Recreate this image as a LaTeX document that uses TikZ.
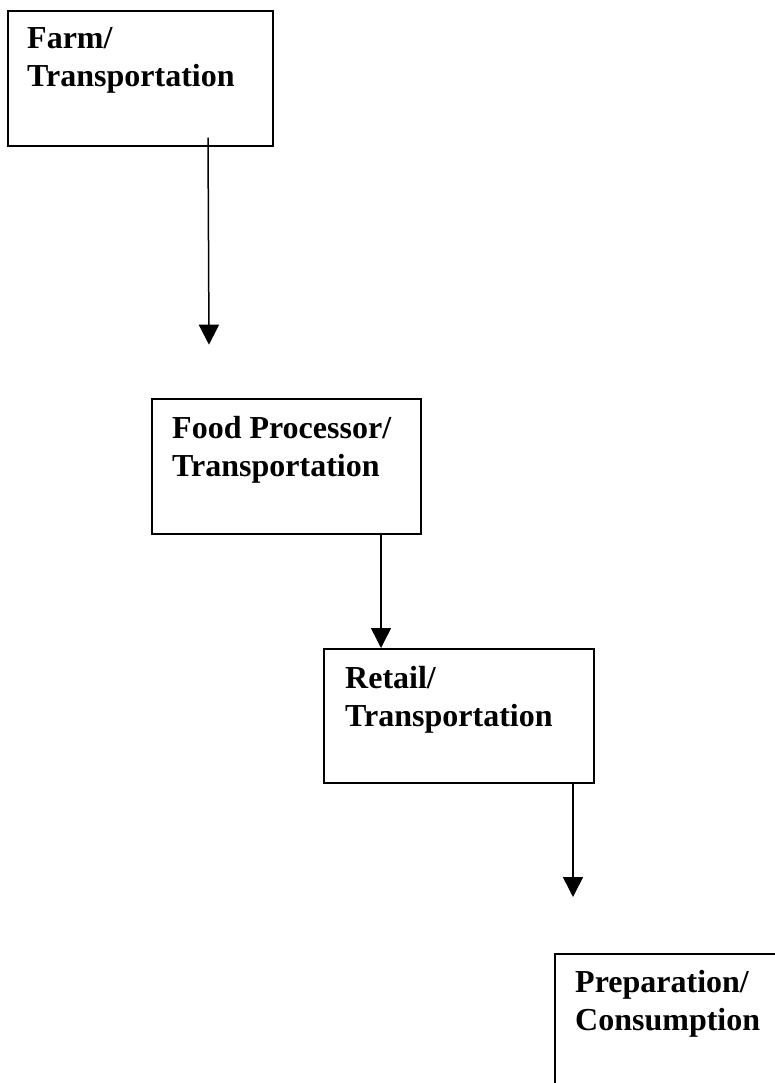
\documentclass[tikz,border=0pt]{standalone}
\usepackage{fontspec}
\setmainfont{Liberation Serif}
\usetikzlibrary{arrows.meta,calc}
\begin{document}
\begin{tikzpicture}[x=1pt,y=-1pt,
  stagebox/.style={draw=black,line width=1.7pt,rectangle,inner sep=0pt,anchor=north west},
  stagetext/.style={anchor=north west,inner sep=0pt,align=left,
    font=\fontsize{32}{38}\selectfont\bfseries},
  flow/.style={draw=black,line width=1.5pt,-{Triangle[width=20pt,length=20pt]}}]
\useasboundingbox (0,0) rectangle (775,1083);
\fill[white] (0,0) rectangle (775,1083);
\clip (0,0) rectangle (775,1083);

\node[stagebox,minimum width=265pt,minimum height=135pt] (farm) at (7,10) {};
\node[stagetext] (farmt) at ($(farm.north west)+(20,17)$) {Farm/\\Transportation};

\node[stagebox,minimum width=269pt,minimum height=135pt] (proc) at (151,398) {};
\node[stagetext] (proct) at ($(proc.north west)+(21,18)$) {Food Processor/\\Transportation};

\node[stagebox,minimum width=270pt,minimum height=134pt] (retail) at (323,648) {};
\node[stagetext] (retailt) at ($(retail.north west)+(22,18)$) {Retail/\\Transportation};

\node[stagebox,minimum width=270pt,minimum height=140pt] (prep) at (554,953) {};
\node[stagetext] (prept) at ($(prep.north west)+(21,17)$) {Preparation/\\Consumption};

\coordinate (a1s) at ($(farm.south west)+(201,-9)$);
\coordinate (a1e) at ($(farm.south west)+(202,198)$);
\draw[flow] (a1s) -- (a1e);

\coordinate (a2s) at ($(proc.south west)+(230,0)$);
\draw[flow] (a2s) -- (a2s |- retail.north);

\coordinate (a3s) at ($(retail.south west)+(250,0)$);
\coordinate (a3e) at ($(prep.north west)+(19,-56)$);
\draw[flow] (a3s) -- (a3s |- a3e);
\end{tikzpicture}
\end{document}
